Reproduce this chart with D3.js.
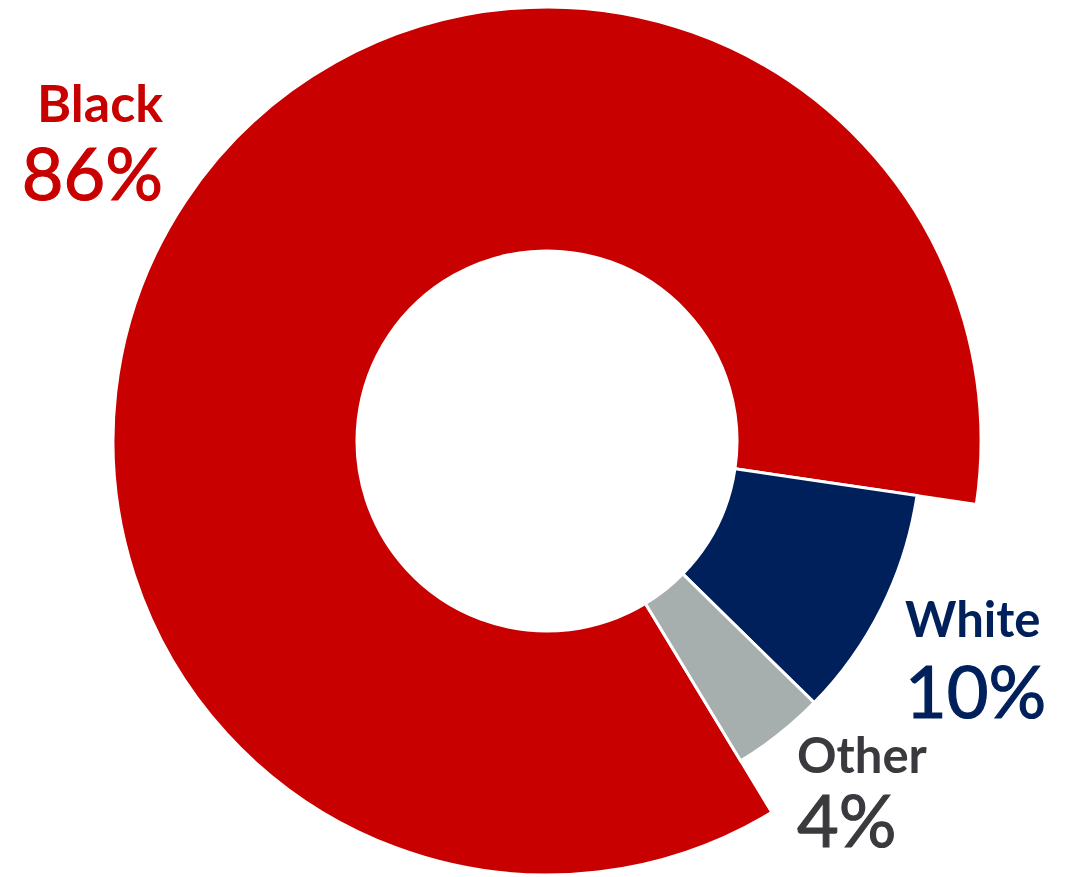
<!DOCTYPE html>
<html>
<head>
<meta charset="utf-8">
<script src="https://cdn.jsdelivr.net/npm/d3@7"></script>
<style>
  html, body { margin: 0; padding: 0; background: #fff; }
  svg { display: block; }
  text { font-family: Lato, "Noto Sans", sans-serif; }
</style>
</head>
<body>
<svg id="chart" width="1074" height="877"></svg>
<script>
const categories = ["Black", "White", "Other"];
const values = [86, 10, 4];
const labels = ["86%", "10%", "4%"];
const colors = ["#C80000", "#00205C", "#A7AEAE"];
const textColors = ["#C80000", "#00205C", "#3A3A3E"];

const W = 1074, H = 877;
const cx = 547, cy = 441;
const innerR = 190;
const outerBig = 434;
const outerSmall = 374;
const startDeg = 148.8;

const svg = d3.select("#chart");
const g = svg.append("g").attr("transform", `translate(${cx},${cy})`);

const data = categories.map((c, i) => ({ cat: c, value: values[i], label: labels[i], color: colors[i], tcolor: textColors[i] }));

const pie = d3.pie()
  .sort(null)
  .value(d => d.value)
  .startAngle(startDeg * Math.PI / 180)
  .endAngle(startDeg * Math.PI / 180 + 2 * Math.PI);

const arcs = pie(data);

const arc = d3.arc()
  .innerRadius(innerR)
  .outerRadius(d => d.index === 0 ? outerBig : outerSmall);

g.selectAll("path.slice")
  .data(arcs)
  .join("path")
  .attr("class", "slice")
  .attr("d", arc)
  .attr("fill", d => d.data.color)
  .attr("stroke", "#fff")
  .attr("stroke-width", 3)
  .attr("stroke-linejoin", "miter");

// Labels
const labelPos = {
  Black: { x: 163, y1: 122, y2: 200, anchor: "end" },
  White: { x: 905, y1: 637, y2: 718, anchor: "start" },
  Other: { x: 797, y1: 773, y2: 847, anchor: "start" }
};

const lg = svg.append("g");
data.forEach(d => {
  const p = labelPos[d.cat];
  lg.append("text")
    .attr("x", p.x).attr("y", p.y1)
    .attr("text-anchor", p.anchor)
    .attr("font-size", d.cat === "Black" ? 52 : 49)
    .attr("font-weight", 700)
    .attr("fill", d.tcolor)
    .text(d.cat);
  lg.append("text")
    .attr("x", p.x).attr("y", p.y2)
    .attr("text-anchor", p.anchor)
    .attr("font-size", 72)
    .attr("font-weight", 400)
    .attr("fill", d.tcolor)
    .attr("stroke", d.tcolor)
    .attr("stroke-width", 1.2)
    .text(d.label);
});
</script>
</body>
</html>
